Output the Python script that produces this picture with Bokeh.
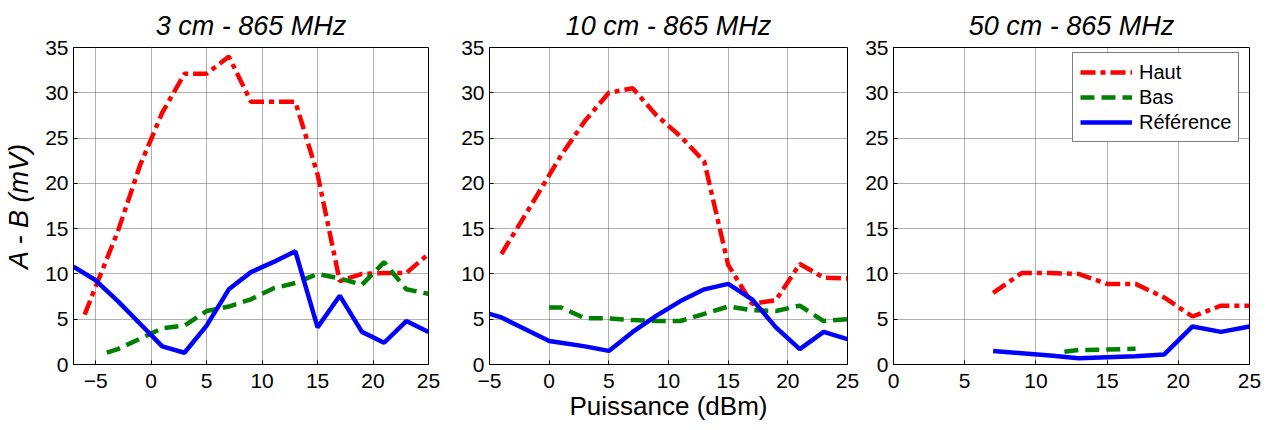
from bokeh.plotting import figure
from bokeh.layouts import row
from bokeh.models import Range1d, FixedTicker, Legend, LegendItem
from bokeh.embed import file_html
from bokeh.resources import INLINE

FONT = "Liberation Sans"

# ---------------- data ----------------
titles = ["3 cm - 865 MHz", "10 cm - 865 MHz", "50 cm - 865 MHz"]
x_label = "Puissance (dBm)"
y_label = "A - B (mV)"
legend_labels = ["Haut", "Bas", "Référence"]
y_ticks = [0, 5, 10, 15, 20, 25, 30, 35]

# 3 cm
p1_haut_x = [-6, -5, -3, -1, 1, 3, 5, 7, 9, 11, 13, 15, 17, 19, 21, 23, 25]
p1_haut_y = [5.5, 8.6, 14.7, 22.0, 27.8, 32.1, 32.1, 34.0, 29.0, 29.0, 29.0, 21.0, 9.2, 10.0, 10.1, 10.1, 12.2]
p1_bas_x = [-4, -3, -1, 1, 3, 5, 7, 9, 11, 13, 15, 17, 19, 21, 23, 25]
p1_bas_y = [1.3, 1.7, 2.85, 4.0, 4.3, 5.9, 6.4, 7.2, 8.4, 9.0, 10.0, 9.5, 8.8, 11.3, 8.3, 7.8]
p1_ref_x = [-7, -5, -3, -1, 1, 3, 5, 7, 9, 11, 13, 15, 17, 19, 21, 23, 25]
p1_ref_y = [10.8, 9.3, 7.0, 4.5, 2.0, 1.3, 4.3, 8.3, 10.2, 11.3, 12.5, 4.1, 7.6, 3.6, 2.4, 4.8, 3.6]

# 10 cm
p2_haut_x = [-4, -1, 1, 3, 5, 7, 9, 11, 13, 15, 17, 19, 21, 23, 25]
p2_haut_y = [12.2, 18.7, 23.1, 26.9, 30.0, 30.5, 27.5, 25.2, 22.4, 11.0, 6.7, 7.1, 11.1, 9.6, 9.5]
p2_bas_x = [0, 1, 3, 5, 7, 9, 11, 13, 15, 17, 19, 21, 23, 25]
p2_bas_y = [6.3, 6.3, 5.1, 5.1, 4.9, 4.8, 4.8, 5.6, 6.4, 6.0, 5.9, 6.5, 4.8, 5.0]
p2_ref_x = [-5, -4, -2, 0, 1, 3, 5, 7, 9, 11, 13, 15, 17, 19, 21, 23, 25]
p2_ref_y = [5.6, 5.2, 3.9, 2.6, 2.4, 2.0, 1.5, 3.6, 5.4, 7.0, 8.3, 8.9, 7.2, 4.1, 1.7, 3.6, 2.8]

# 50 cm
p3_haut_x = [7, 9, 11, 13, 15, 17, 19, 21, 23, 25]
p3_haut_y = [7.9, 10.1, 10.1, 10.0, 8.9, 8.9, 7.4, 5.3, 6.5, 6.5]
p3_bas_x = [12, 13, 15, 17]
p3_bas_y = [1.4, 1.6, 1.65, 1.75]
p3_ref_x = [7, 9, 11, 13, 15, 17, 19, 21, 23, 25]
p3_ref_y = [1.5, 1.25, 1.0, 0.7, 0.8, 0.9, 1.1, 4.2, 3.6, 4.2]

x_ranges = [(-7, 25), (-5, 25), (0, 25)]
x_ticks = [[-5, 0, 5, 10, 15, 20, 25], [-5, 0, 5, 10, 15, 20, 25], [0, 5, 10, 15, 20, 25]]
series = [
    (p1_haut_x, p1_haut_y, p1_bas_x, p1_bas_y, p1_ref_x, p1_ref_y),
    (p2_haut_x, p2_haut_y, p2_bas_x, p2_bas_y, p2_ref_x, p2_ref_y),
    (p3_haut_x, p3_haut_y, p3_bas_x, p3_bas_y, p3_ref_x, p3_ref_y),
]

# ---------------- layout ----------------
frame_w = [355, 358, 356]
border_l = [73, 49, 33]
border_r = [12, 13, 14]
B_TOP, B_BOT, H = 47, 62, 426

RED, GREEN, BLUE = "#FF0000", "#008000", "#0000FF"
LW = 4.5


def style_axis(ax, ticks):
    ax.ticker = FixedTicker(ticks=ticks)
    ax.major_tick_in = 4
    ax.major_tick_out = 0
    ax.minor_tick_line_color = None
    ax.axis_line_color = "black"
    ax.axis_line_width = 1
    ax.major_tick_line_color = "black"
    ax.major_label_text_font = FONT
    ax.major_label_text_font_size = "21px"
    ax.major_label_text_color = "black"


figs = []
for i in range(3):
    p = figure(
        width=border_l[i] + frame_w[i] + border_r[i], height=H,
        x_range=Range1d(*x_ranges[i]), y_range=Range1d(0, 35),
        output_backend="svg", toolbar_location=None,
        min_border_left=border_l[i], min_border_right=border_r[i],
        min_border_top=B_TOP, min_border_bottom=B_BOT,
    )
    p.title.text = titles[i]
    p.title.text_font = FONT
    p.title.text_font_size = "27px"
    p.title.text_font_style = "italic"
    p.title.align = "center"
    p.title.text_color = "black"
    p.title.standoff = 13

    xax = p.xaxis[0]
    yax = p.yaxis[0]
    style_axis(xax, x_ticks[i])
    style_axis(yax, y_ticks)
    xax.major_label_standoff = 9
    yax.major_label_standoff = 5

    p.grid.grid_line_color = "#606060"
    p.grid.grid_line_dash = "1 1"
    p.grid.grid_line_width = 1
    p.grid[0].ticker = FixedTicker(ticks=x_ticks[i])
    p.grid[1].ticker = FixedTicker(ticks=y_ticks)
    p.outline_line_color = "black"
    p.outline_line_width = 1
    p.background_fill_color = "white"
    p.border_fill_color = "white"

    hx, hy, bx, by, rx, ry = series[i]
    r_h = p.line(hx, hy, line_color=RED, line_width=LW, line_dash="15 5 5 5")
    r_b = p.line(bx, by, line_color=GREEN, line_width=LW, line_dash="14 7")
    r_r = p.line(rx, ry, line_color=BLUE, line_width=LW)

    if i == 1:
        xax.axis_label = x_label
        xax.axis_label_text_font = FONT
        xax.axis_label_text_font_size = "26px"
        xax.axis_label_text_font_style = "normal"
        xax.axis_label_text_color = "black"
        xax.axis_label_standoff = 0

    if i == 0:
        yax.axis_label = y_label
        yax.axis_label_text_font = FONT
        yax.axis_label_text_font_size = "27px"
        yax.axis_label_text_font_style = "italic"
        yax.axis_label_text_color = "black"
        yax.axis_label_standoff = 8

    if i == 2:
        legend = Legend(
            items=[LegendItem(label=legend_labels[0], renderers=[r_h]),
                   LegendItem(label=legend_labels[1], renderers=[r_b]),
                   LegendItem(label=legend_labels[2], renderers=[r_r])],
            location=(179, 222),
            border_line_color="black", border_line_width=1,
            background_fill_color="white", background_fill_alpha=1,
            label_text_font=FONT, label_text_font_size="20px", label_text_color="black",
            glyph_width=52, glyph_height=24, label_height=24, spacing=1,
            padding=7, label_standoff=7, margin=0,
        )
        p.add_layout(legend)
    figs.append(p)

layout = row(*figs, spacing=0)
open("out.html", "w").write(file_html(layout, INLINE))
